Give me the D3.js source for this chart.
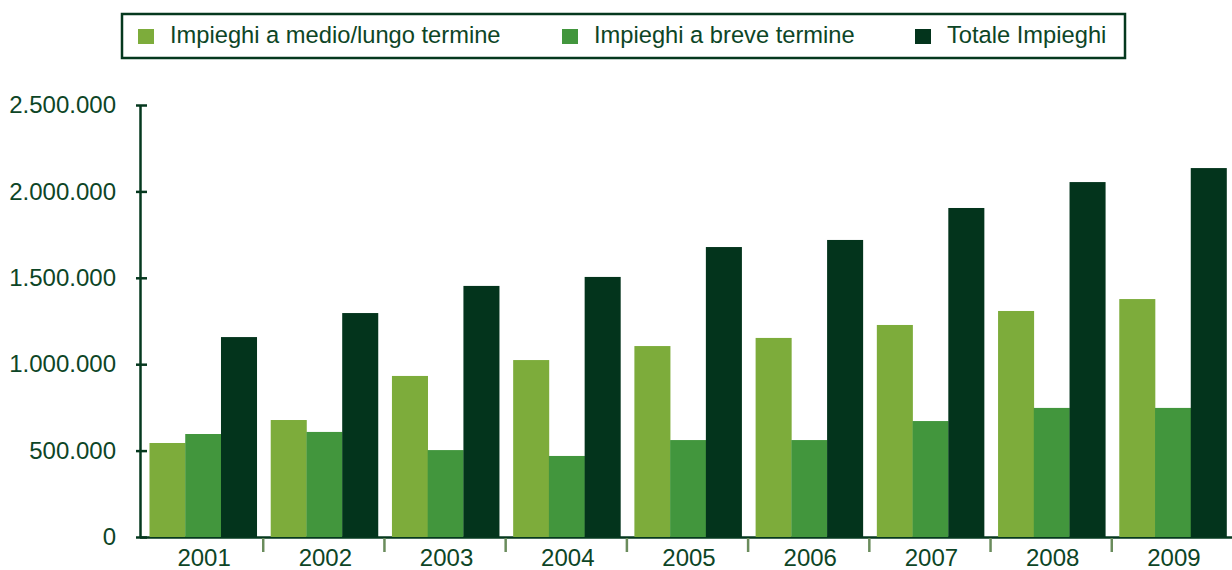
<!DOCTYPE html>
<html>
<head>
<meta charset="utf-8">
<script src="https://cdn.jsdelivr.net/npm/d3@7.9.0/dist/d3.min.js"></script>
<style>
  body { margin: 0; background: #fff; }
  svg { display: block; font-family: "Liberation Sans", Arial, sans-serif; }
</style>
</head>
<body>
<svg id="chart" width="1232" height="570"></svg>
<script>
const years = ['2001', '2002', '2003', '2004', '2005', '2006', '2007', '2008', '2009'];
const seriesNames = ['Impieghi a medio/lungo termine', 'Impieghi a breve termine', 'Totale Impieghi'];
const medioLungo = [544000, 677000, 932000, 1024000, 1105000, 1152000, 1227000, 1308000, 1377000];
const breve = [596000, 608000, 503000, 469000, 561000, 561000, 671000, 747000, 747000];
const totale = [1157000, 1296000, 1453000, 1505000, 1678000, 1719000, 1904000, 2054000, 2135000];
const yTicks = [0, 500000, 1000000, 1500000, 2000000, 2500000];

const colors = ['#7dac3b', '#42963d', '#03341c'];
const textColor = '#0d4526';
const axisColor = '#05381e';

const svg = d3.select('#chart');

const rows = years.map((y, i) => ({ year: y, values: [medioLungo[i], breve[i], totale[i]] }));

const x0 = d3.scaleBand().domain(years).range([142, 1233]).padding(0);
const x1 = d3.scaleBand().domain(d3.range(3)).range([7.5, x0.bandwidth() - 6.5]).padding(0);
const y = d3.scaleLinear().domain([0, 2500000]).range([537, 105]);

const itFormat = d3.formatLocale({ decimal: ',', thousands: '.', grouping: [3], currency: ['€', ''] }).format(',d');

// x axis base line (behind the bars)
svg.append('line')
  .attr('x1', 140).attr('x2', 1232)
  .attr('y1', 537.5).attr('y2', 537.5)
  .attr('stroke', axisColor).attr('stroke-width', 2.5);

// group separators below the axis
svg.append('g')
  .selectAll('line')
  .data(years.slice(1))
  .join('line')
  .attr('x1', d => x0(d)).attr('x2', d => x0(d))
  .attr('y1', 538).attr('y2', 552)
  .attr('stroke', '#6a8c5c').attr('stroke-width', 2.5);

// bars
svg.append('g')
  .selectAll('g')
  .data(rows)
  .join('g')
  .attr('transform', d => `translate(${x0(d.year)},0)`)
  .selectAll('rect')
  .data(d => d.values.map((v, i) => ({ i, v })))
  .join('rect')
  .attr('x', d => x1(d.i))
  .attr('width', x1.bandwidth() + 0.3)
  .attr('y', d => y(d.v))
  .attr('height', d => y(0) - y(d.v))
  .attr('fill', d => colors[d.i]);

// x labels
const xAxis = svg.append('g')
  .attr('transform', 'translate(0,537)')
  .call(d3.axisBottom(x0).tickSize(0).tickPadding(12));
xAxis.select('.domain').remove();
xAxis.selectAll('text')
  .attr('font-size', 24)
  .attr('font-family', '"Liberation Sans", Arial, sans-serif')
  .attr('fill', textColor)
  .attr('dx', 1.5);

// y axis
const yAxis = svg.append('g')
  .attr('transform', 'translate(140,0)')
  .call(d3.axisLeft(y).tickValues(yTicks).tickFormat(itFormat).tickSize(0).tickPadding(24));
yAxis.select('.domain')
  .attr('stroke', axisColor).attr('stroke-width', 2.5);
yAxis.selectAll('.tick line').remove();
yAxis.selectAll('.tick').append('line')
  .attr('x1', -4).attr('x2', 7)
  .attr('stroke', axisColor).attr('stroke-width', 2.5);
yAxis.selectAll('text')
  .attr('font-size', 24)
  .attr('font-family', '"Liberation Sans", Arial, sans-serif')
  .attr('fill', textColor);

// legend
const legend = svg.append('g');
legend.append('rect')
  .attr('x', 122).attr('y', 14)
  .attr('width', 1003).attr('height', 44)
  .attr('fill', 'none')
  .attr('stroke', axisColor).attr('stroke-width', 2.5);

const legendX = [138, 562, 915];
const items = legend.selectAll('g.item')
  .data(seriesNames)
  .join('g')
  .attr('class', 'item')
  .attr('transform', (d, i) => `translate(${legendX[i]},0)`);
items.append('rect')
  .attr('x', 0).attr('y', 29)
  .attr('width', 16).attr('height', 15)
  .attr('fill', (d, i) => colors[i]);
items.append('text')
  .attr('x', 32).attr('y', 43)
  .attr('font-size', 23.7)
  .attr('fill', textColor)
  .text(d => d);
</script>
</body>
</html>
